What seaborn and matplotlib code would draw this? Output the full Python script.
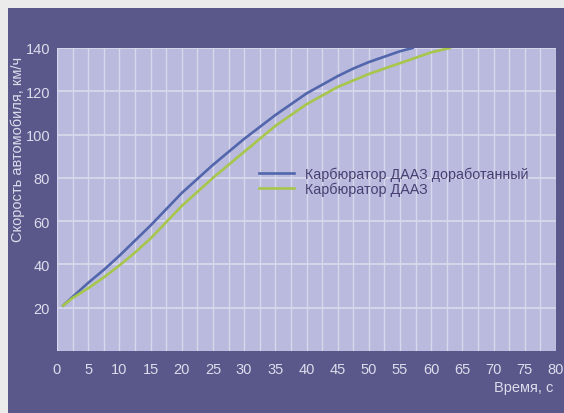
import pandas as pd
import seaborn as sns
import matplotlib.pyplot as plt
from matplotlib.patches import Rectangle
from matplotlib.ticker import MultipleLocator

# Values
time_mod = [1, 2.5, 5, 7.5, 10, 12.5, 15, 17.5, 20, 22.5, 25, 27.5, 30, 32.5,
            35, 37.5, 40, 42.5, 45, 47.5, 50, 52.5, 55, 57]
speed_mod = [21, 25, 31.5, 37.5, 44, 51, 58, 65.5, 73, 79.5, 86, 92, 98, 103.5,
             109, 114, 119, 123, 127, 130.5, 133.5, 136, 138.5, 140]
time_base = [1, 2.5, 5, 7.5, 10, 12.5, 15, 17.5, 20, 22.5, 25, 27.5, 30, 32.5,
             35, 37.5, 40, 42.5, 45, 47.5, 50, 52.5, 55, 57.5, 60, 63]
speed_base = [21, 24.5, 29, 34, 39.5, 45.5, 52, 59.5, 67, 73.5, 80, 86, 92, 98,
              104, 109, 114, 118, 122, 125, 128, 130.5, 133, 135.5, 138, 140]

label_mod = "Карбюратор ДААЗ доработанный"
label_base = "Карбюратор ДААЗ"
x_ticks = list(range(0, 85, 5))
y_ticks = [20, 40, 60, 80, 100, 120, 140]

df = pd.concat([
    pd.DataFrame({"t": time_mod, "v": speed_mod, "series": label_mod}),
    pd.DataFrame({"t": time_base, "v": speed_base, "series": label_base}),
])

bg = "#5a588a"
face = "#babade"
grid = "#d8d8ec"
txt = "#dcdcec"

plt.rcParams['font.family'] = ['Liberation Sans', 'DejaVu Sans']

fig = plt.figure(figsize=(5.64, 4.14), dpi=100)
fig.patch.set_facecolor("#ebebeb")
fig.patches.append(Rectangle((8 / 564, 0), 1, 1 - 9 / 414, transform=fig.transFigure,
                             facecolor=bg, edgecolor="none", zorder=-5))
ax = fig.add_axes([57 / 564, 62 / 414, 499 / 564, 303 / 414])
ax.set_facecolor(face)

sns.lineplot(data=df, x="t", y="v", hue="series", sort=False,
             palette={label_mod: "#5266ac", label_base: "#a6c64c"},
             linewidth=1.9, ax=ax, zorder=3)

ax.set_xlim(0, 80)
ax.set_ylim(0, 140)
ax.set_xticks(x_ticks)
ax.set_yticks(y_ticks)
ax.xaxis.set_minor_locator(MultipleLocator(2.5))
ax.grid(True, which="both", axis="x", color=grid, linewidth=1.0)
ax.grid(True, which="major", axis="y", color=grid, linewidth=1.3)
ax.set_axisbelow(True)
ax.tick_params(which="both", length=0, colors=txt, labelsize=10.5)
ax.tick_params(axis="x", pad=8)
ax.tick_params(axis="y", pad=5)
for s in ax.spines.values():
    s.set_visible(False)

ax.set_xlabel("")
ax.set_ylabel("Скорость автомобиля, км/ч", color=txt, fontsize=10.5)
ax.yaxis.set_label_coords(-0.065, 0.67)
fig.text(553 / 564, 1 - 388 / 414, "Время, с", color=txt, fontsize=10.5,
         ha="right", va="center")

leg = ax.legend(loc="upper left", bbox_to_anchor=(0.38, 0.65), frameon=False,
                fontsize=10.3, handlelength=2.4, labelspacing=0.0, handletextpad=0.8)
for t in leg.get_texts():
    t.set_color("#463f72")

fig.savefig("out.png", dpi=100, facecolor=fig.get_facecolor())
